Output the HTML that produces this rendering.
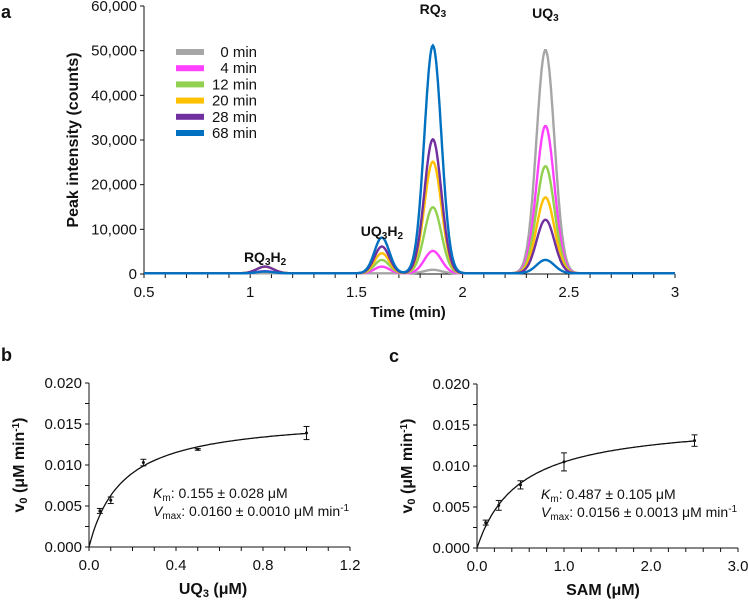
<!DOCTYPE html>
<html><head><meta charset="utf-8"><style>
body{margin:0;background:#fff;}
svg{display:block;font-family:"Liberation Sans",Arial,sans-serif;}
</style></head><body>
<svg id="s" width="748" height="600"></svg>
<script>
// Panel a data
const times=["0 min","4 min","12 min","20 min","28 min","68 min"];
const colors=["#a6a6a6","#ff40ff","#92d050","#ffc000","#7030a0","#0070c0"];
const peakCenters=[1.07,1.62,1.86,2.39];
const peakNames=["RQ3H2","UQ3H2","RQ3","UQ3"];
const peakRQ3H2=[0,500,1500,1500,1500,400];
const peakUQ3H2=[0,1500,3000,4500,6000,8000];
const peakRQ3=[800,5000,14800,25000,30000,51000];
const peakUQ3=[50000,33000,24000,17000,12000,3000];
const aXTicks=[0.5,1,1.5,2,2.5,3];
const aYTicks=[0,10000,20000,30000,40000,50000,60000];
// Panel b data
const bX=[0.05,0.1,0.25,0.5,1.0];
const bY=[0.0044,0.0057,0.0103,0.0119,0.0139];
const bErr=[0.0003,0.0004,0.0004,0.0001,0.0008];
const bVmax=0.0160,bKm=0.155;
// Panel c data
const cX=[0.1,0.25,0.5,1.0,2.5];
const cY=[0.0031,0.0052,0.0077,0.0105,0.0131];
const cErr=[0.0003,0.0006,0.0005,0.0011,0.0007];
const cVmax=0.0156,cKm=0.487;
const kinYTicks=[0,0.005,0.01,0.015,0.02];

const S=document.getElementById('s');const NS="http://www.w3.org/2000/svg";
function el(t,a,txt){const e=document.createElementNS(NS,t);for(const k in a)e.setAttribute(k,a[k]);if(txt!==undefined)e.innerHTML=txt;S.appendChild(e);return e;}
function txt(x,y,s,o){o=o||{};const e=el('text',{x:x,y:y,'font-size':o.fs||15,'text-anchor':o.a||'middle','font-weight':o.b?'bold':'normal',fill:'#111'},s);if(o.rot)e.setAttribute('transform','rotate(-90 '+x+' '+y+')');return e;}

// ---- Panel a ----
const ax=v=>144+(v-0.5)/2.5*531, ay=v=>274-v/60000*268;
let l=el('line',{x1:144,y1:6,x2:144,y2:274,stroke:'#111'});
l=el('line',{x1:144,y1:274,x2:675,y2:274,stroke:'#111'});
aYTicks.forEach(v=>{el('line',{x1:140,y1:ay(v),x2:144,y2:ay(v),stroke:'#111'});const t=txt(137,ay(v)+5,v.toLocaleString('en-US'),{a:'end'});});
for(let v=0.5;v<=3.001;v+=0.1){el('line',{x1:ax(v),y1:274,x2:ax(v),y2:278,stroke:'#111'});}
aXTicks.forEach(v=>{const t=txt(ax(v),297,String(v));});
let t=txt(408,317,'Time (min)',{b:1});
t=txt(78,140,'Peak intensity (counts)',{b:1,rot:1,fs:16});
t=txt(1,18,'a',{b:1,a:'start',fs:18});
const sig=[0.04,0.035,0.04,0.042];
const heights=[peakRQ3H2,peakUQ3H2,peakRQ3,peakUQ3];
times.forEach((tm,i)=>{let d='';for(let x=0.5;x<=3.0001;x+=0.004){let y=150;for(let p=0;p<4;p++){y+=heights[p][i]*Math.exp(-Math.pow((x-peakCenters[p])/sig[p],2)/2);}d+=(d?'L':'M')+ax(x).toFixed(1)+','+ay(y).toFixed(1);}
const p=el('path',{d:d,fill:'none',stroke:colors[i],'stroke-width':2.4});
const ly=52+i*16.2;const r=el('rect',{x:176,y:ly-3,width:28,height:6,fill:colors[i]});
const lt=txt(257,ly+5,tm,{a:'end'});});
const lbls=['RQ<tspan dy="3" font-size="10">3</tspan><tspan dy="-3">H</tspan><tspan dy="3" font-size="10">2</tspan>','UQ<tspan dy="3" font-size="10">3</tspan><tspan dy="-3">H</tspan><tspan dy="3" font-size="10">2</tspan>','RQ<tspan dy="3" font-size="10">3</tspan>','UQ<tspan dy="3" font-size="10">3</tspan>'];
const lblY=[262,236,14,18];
lbls.forEach((s,i)=>{const e=txt(ax(peakCenters[i]),lblY[i],s,{b:1,fs:14});});

// ---- kinetics panels ----
function kin(o){
 const X=v=>o.x0+v/o.xmax*(o.x1-o.x0),Y=v=>o.y0-v/0.02*(o.y0-o.y1);
 let a=el('line',{x1:o.x0,y1:o.y1,x2:o.x0,y2:o.y0,stroke:'#111'});
 a=el('line',{x1:o.x0,y1:o.y0,x2:o.x1,y2:o.y0,stroke:'#111'});
 for(let v=0;v<=0.02001;v+=0.0025){el('line',{x1:o.x0-4,y1:Y(v),x2:o.x0,y2:Y(v),stroke:'#111'});}
 kinYTicks.forEach(v=>{const e=txt(o.x0-7,Y(v)+5,v.toFixed(3),{a:'end'});});
 for(let k=0;k<=o.nmin;k++){const v=o.xmax*k/o.nmin;el('line',{x1:X(v),y1:o.y0,x2:X(v),y2:o.y0+4,stroke:'#111'});}
 o.xt.forEach(v=>{const e=txt(X(v),o.y0+23,v.toFixed(1));});
 let d='';const xe=o.xs[o.xs.length-1];for(let k=0;k<=200;k++){const x=xe*k/200;const y=o.vm*x/(o.km+x);d+=(d?'L':'M')+X(x).toFixed(1)+','+Y(y).toFixed(1);}
 a=el('path',{d:d,fill:'none',stroke:'#111','stroke-width':1.3});
 o.xs.forEach((x,i)=>{const g=el('g',{});
  const px=X(x),yt=Y(o.ys[i]+o.es[i]),yb=Y(o.ys[i]-o.es[i]);
  [[px,yt,px,yb],[px-3,yt,px+3,yt],[px-3,yb,px+3,yb]].forEach(c=>{const q=document.createElementNS(NS,'line');q.setAttribute('x1',c[0]);q.setAttribute('y1',c[1]);q.setAttribute('x2',c[2]);q.setAttribute('y2',c[3]);q.setAttribute('stroke','#111');g.appendChild(q);});
  const c=document.createElementNS(NS,'circle');c.setAttribute('cx',px);c.setAttribute('cy',Y(o.ys[i]));c.setAttribute('r',1.5);c.setAttribute('fill','#111');g.appendChild(c);});
 let e=txt(o.lx,o.y0+47,o.xtitle,{b:1,fs:16});
 e=txt(o.x0-65,(o.y0+o.y1)/2,'v<tspan dy="3" font-size="11">0</tspan><tspan dy="-3"> (μM min</tspan><tspan dy="-5" font-size="10">-1</tspan><tspan dy="5">)</tspan>',{b:1,rot:1,fs:16});
 e=txt(o.tx,o.ty,'<tspan font-style="italic">K</tspan><tspan dy="3" font-size="10">m</tspan><tspan dy="-3">: '+o.t1+'</tspan>',{a:'start',fs:14});
 e=txt(o.tx,o.ty+18,'<tspan font-style="italic">V</tspan><tspan dy="3" font-size="10">max</tspan><tspan dy="-3">: '+o.t2+' μM min</tspan><tspan dy="-5" font-size="10">-1</tspan>',{a:'start',fs:14});
 e=txt(o.x0-88,o.y1-22,o.lab,{b:1,a:'start',fs:18});
}
kin({n:'b',lab:'b',x0:89,x1:350,y0:547,y1:383,xmax:1.2,nmin:12,xt:[0,0.4,0.8,1.2],xs:bX,ys:bY,es:bErr,vm:bVmax,km:bKm,xtitle:'UQ<tspan dy="3" font-size="11">3</tspan><tspan dy="-3"> (μM)</tspan>',lx:213,tx:153,ty:498,t1:'0.155 ± 0.028 μM',t2:'0.0160 ± 0.0010'});
kin({n:'c',lab:'c',x0:477,x1:738,y0:548,y1:384,xmax:3.0,nmin:15,xt:[0,1,2,3],xs:cX,ys:cY,es:cErr,vm:cVmax,km:cKm,xtitle:'SAM (μM)',lx:603,tx:541,ty:499,t1:'0.487 ± 0.105 μM',t2:'0.0156 ± 0.0013'});
</script>
</body></html>
